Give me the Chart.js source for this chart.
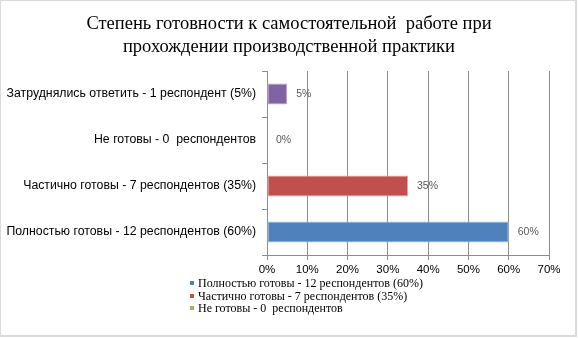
<!DOCTYPE html>
<html>
<head>
<meta charset="utf-8">
<script src="https://cdn.jsdelivr.net/npm/chart.js@4"></script>
<style>
  html, body {margin: 0; padding: 0; background: #fff;}
  #wrap {position: relative; width: 578px; height: 338px; overflow: hidden;}
  #frame {position: absolute; left: 0; top: 0; width: 574px; height: 334px; border: 1px solid #d9d9d9; border-right-width: 2px; border-bottom-width: 2px;}
  #title {position: absolute; left: 0; top: 12px; width: 578px; text-align: center; font-family: 'Liberation Serif', serif; font-size: 18.5px; line-height: 23px; color: #000;}
  #legend {position: absolute; left: 190px; top: 277px; font-family: 'Liberation Serif', serif; font-size: 12px; line-height: 12.5px; color: #000;}
  #legend div {white-space: pre;}
  #legend span {display: inline-block; width: 4px; height: 4px; margin-right: 4px; vertical-align: 2px;}
  canvas {position: absolute; left: 0; top: 0;}
</style>
</head>
<body>
<div id="wrap">
  <div id="frame"></div>
  <canvas id="c" width="578" height="338"></canvas>
  <div id="title">Степень готовности к самостоятельной&nbsp; работе при<br>прохождении производственной практики</div>
  <div id="legend"></div>
</div>
<script>
// категории снизу вверх, как в исходной диаграмме
const categories = [
  'Полностью готовы - 12 респондентов (60%)',
  'Частично готовы - 7 респондентов (35%)',
  'Не готовы - 0  респондентов',
  'Затруднялись ответить - 1 респондент (5%)'
];
const shares = [60, 35, 0, 5];
const barColors = ['#4F81BD', '#C0504D', '#9BBB59', '#8064A2'];
const xTicks = [0, 10, 20, 30, 40, 50, 60, 70];
// в легенде видно только три первых пункта
const legendCount = 3;

const legendEl = document.getElementById('legend');
categories.slice(0, legendCount).forEach((name, i) => {
  const row = document.createElement('div');
  row.innerHTML = `<span style="background:${barColors[i]}"></span>` + name;
  legendEl.appendChild(row);
});

// подписи значений справа от столбцов
const valueLabels = {
  id: 'valueLabels',
  afterDatasetsDraw(chart) {
    const ctx = chart.ctx;
    const meta = chart.getDatasetMeta(0);
    ctx.save();
    ctx.font = "10.5px 'Liberation Sans', sans-serif";
    ctx.fillStyle = '#595959';
    ctx.textBaseline = 'middle';
    meta.data.forEach((bar, i) => {
      ctx.fillText(shares[i] + '%', bar.x + 9, bar.y);
    });
    ctx.restore();
  }
};

new Chart(document.getElementById('c'), {
  type: 'bar',
  data: {
    labels: categories,
    datasets: [{
      data: shares,
      backgroundColor: barColors,
      borderColor: ['#9db8dc', '#e0a3a1', '#c8dca6', '#b6a6ca'],
      borderWidth: 1,
      borderSkipped: false,
      categoryPercentage: 1,
      barPercentage: 0.46
    }]
  },
  options: {
    indexAxis: 'y',
    responsive: false,
    animation: false,
    layout: {padding: {left: 0, top: 71, right: 29, bottom: 0}},
    plugins: {legend: {display: false}, tooltip: {enabled: false}},
    scales: {
      x: {
        min: 0, max: 70,
        afterBuildTicks: s => { s.ticks = xTicks.map(v => ({value: v})); },
        afterFit: s => { s.height = 83; },
        grid: {color: '#8c8c8c', tickLength: 5, tickColor: '#8c8c8c'},
        border: {color: '#8c8c8c'},
        ticks: {callback: v => v + '%', color: '#000', padding: 3, font: {family: "'Liberation Sans', sans-serif", size: 11.5}}
      },
      y: {
        reverse: true,
        afterFit: s => { s.width = 267; },
        grid: {display: true, drawOnChartArea: false, offset: true, tickLength: 5, color: '#8c8c8c'},
        border: {color: '#8c8c8c'},
        ticks: {color: '#000', padding: 6, font: {family: "'Liberation Sans', sans-serif", size: 12.3}}
      }
    }
  },
  plugins: [valueLabels]
});
</script>
</body>
</html>
